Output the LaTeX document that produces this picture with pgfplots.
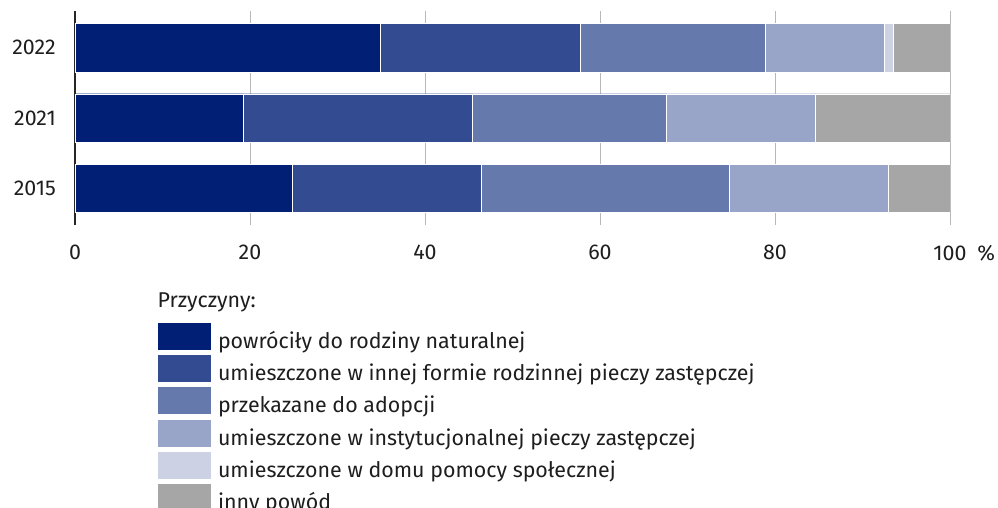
\documentclass[border=0pt]{standalone}
\usepackage{pgfplots}
\pgfplotsset{compat=1.18}
\usepackage{fontspec}
\setmainfont{Fira Sans}
\definecolor{c1}{HTML}{001F75}
\colorlet{c2}{c1!80!white}
\colorlet{c3}{c1!60!white}
\colorlet{c4}{c1!40!white}
\colorlet{c5}{c1!20!white}
\definecolor{c6}{HTML}{A6A6A6}
\definecolor{txt}{HTML}{1E1E1E}
\begin{document}
\fontsize{21.4}{25}\selectfont
\begin{tikzpicture}
\path[use as bounding box] (0pt,0pt) rectangle (998pt,508pt);
\begin{axis}[
  at={(75pt,283pt)}, anchor=south west,
  scale only axis, width=875pt, height=214pt,
  xbar stacked, bar width=48.5pt,
  xmin=0, xmax=100, ymin=-0.52, ymax=2.52,
  axis line style={draw=none},
  xtick={0,20,40,60,80,100},
  xticklabels={0,20,40,60,80,{100\rlap{\hspace{0.5em}\%}}},
  ytick={0,1,2}, yticklabels={2015,2021,2022},
  major tick length=0pt,
  xmajorgrids, grid style={color=black!28, line width=0.8pt},
  extra x ticks={0}, extra x tick labels={},
  extra x tick style={grid style={color=black!85, line width=1.1pt}},
  xticklabel style={anchor=north, inner sep=0pt, yshift=-20pt},
  yticklabel style={anchor=east, inner sep=0pt, xshift=-19pt},
  /pgf/number format/assume math mode=true,
  tick label style={text=txt},
  legend cell align=left,
  legend style={at={(0.0949,-0.458)}, anchor=north west, draw=none, fill=none,
    inner sep=0pt, outer sep=0pt, row sep=1.7pt, column sep=7pt,
    nodes={inner sep=0pt, text=txt, text height=16pt, text depth=5pt}},
  legend image code/.code={\fill[#1, draw=none] (0pt,-7pt) rectangle (53pt,20pt);},
  every axis plot/.append style={draw=white, line width=0.4pt},
]
\addplot[fill=c1] coordinates {(24.8,0) (19.2,1) (34.9,2)};
\addplot[fill=c2] coordinates {(21.6,0) (26.2,1) (22.8,2)};
\addplot[fill=c3] coordinates {(28.4,0) (22.2,1) (21.2,2)};
\addplot[fill=c4] coordinates {(18.1,0) (17.0,1) (13.6,2)};
\addplot[fill=c5] coordinates {(0,0) (0,1) (1.0,2)};
\addplot[fill=c6] coordinates {(7.1,0) (15.4,1) (6.5,2)};
\legend{powróciły do rodziny naturalnej,
  umieszczone w innej formie rodzinnej pieczy zastępczej,
  przekazane do adopcji,
  umieszczone w instytucjonalnej pieczy zastępczej,
  umieszczone w domu pomocy społecznej,
  inny powód}
\end{axis}
\node[anchor=base west, inner sep=0pt, text=txt] at (157.5pt,200pt) {Przyczyny:};
\end{tikzpicture}
\end{document}
